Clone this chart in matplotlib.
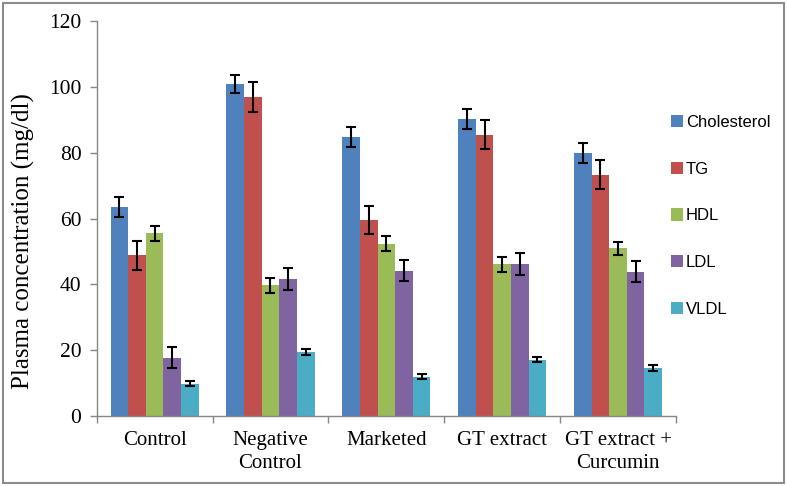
import matplotlib
matplotlib.use("Agg")
import matplotlib.pyplot as plt
import numpy as np
from matplotlib.patches import Rectangle

categories = ["Control", "Negative\nControl", "Marketed", "GT extract", "GT extract +\nCurcumin"]
series = ["Cholesterol", "TG", "HDL", "LDL", "VLDL"]
values = {
    "Cholesterol": [63.4, 100.9, 84.7, 90.2, 80.0],
    "TG":          [48.8, 97.0, 59.6, 85.5, 73.3],
    "HDL":         [55.5, 39.7, 52.4, 46.1, 50.9],
    "LDL":         [17.7, 41.7, 44.2, 46.1, 43.9],
    "VLDL":        [9.8, 19.5, 12.0, 17.1, 14.6],
}
errors = {
    "Cholesterol": [3.0, 2.8, 3.0, 3.0, 3.0],
    "TG":          [4.4, 4.6, 4.3, 4.5, 4.4],
    "HDL":         [2.2, 2.3, 2.4, 2.3, 2.1],
    "LDL":         [3.2, 3.3, 3.3, 3.3, 3.3],
    "VLDL":        [0.7, 1.0, 0.7, 0.8, 0.8],
}
colors = ["#4F81BD", "#C0504D", "#9BBB59", "#8064A2", "#4BACC6"]
yticks = [0, 20, 40, 60, 80, 100, 120]

fig = plt.figure(figsize=(7.87, 4.86), dpi=100)
ax = fig.add_axes([0.1229, 0.144, 0.736, 0.8128])

x = np.arange(len(categories))
w = 0.152
for i, s in enumerate(series):
    off = (i - 2) * w
    ax.bar(x + off, values[s], width=w, color=colors[i], label=s,
           yerr=errors[s], error_kw=dict(ecolor="black", elinewidth=1.5, capsize=3.5, capthick=1.5),
           zorder=2)

ax.set_xlim(-0.5, 4.5)
ax.set_ylim(0, 120)
ax.set_yticks(yticks)
serif = "Liberation Serif"
ax.set_yticklabels([str(t) for t in yticks], fontsize=15.5, family=serif)
ax.set_xticks(x)
ax.set_xticklabels(categories, fontsize=15, family=serif, linespacing=1.25)
ax.tick_params(axis="x", which="major", length=0, pad=11)
ax.set_xticks(np.arange(-0.5, 5.0, 1.0), minor=True)
ax.tick_params(axis="x", which="minor", length=5, color="#868686", width=1)
ax.tick_params(axis="y", length=5, color="#868686", width=1, pad=6)
for sp in ["top", "right"]:
    ax.spines[sp].set_visible(False)
for sp in ["left", "bottom"]:
    ax.spines[sp].set_color("#868686")
    ax.spines[sp].set_linewidth(1)
ax.set_ylabel("Plasma concentration (mg/dl)", fontsize=18, family=serif)
ax.yaxis.set_label_coords(-0.1065, 0.442)

leg = ax.legend(loc="upper left", bbox_to_anchor=(0.965, 0.80), frameon=False,
                prop=dict(family="Liberation Sans", size=12), handlelength=0.75,
                handleheight=0.75, handletextpad=0.15, labelspacing=1.9)

fig.patches.append(Rectangle((0.004, 0.006), 0.992, 0.988, transform=fig.transFigure,
                             fill=False, edgecolor="#8c8c8c", linewidth=1.5))

fig.savefig("out.png", dpi=100)
